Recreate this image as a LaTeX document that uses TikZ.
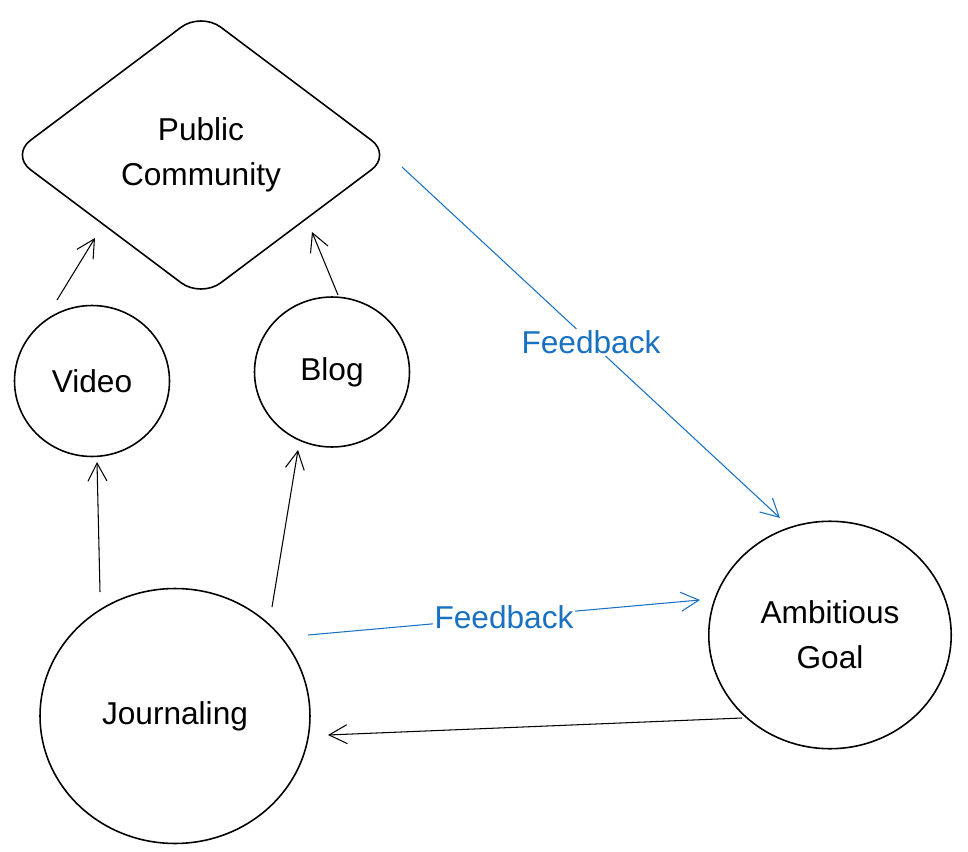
\documentclass[tikz,border=0pt]{standalone}
\usepackage{fontspec}
\setmainfont{Liberation Sans}
\usetikzlibrary{shapes.geometric,arrows.meta,calc}
\definecolor{fbblue}{HTML}{1971C2}
\begin{document}
\begin{tikzpicture}[x=0.02cm,y=-0.02cm,
  lbl/.style={font=\fontsize{18}{25.5}\selectfont, align=center, text=black},
  blob/.style={ellipse, draw=black, line width=0.9pt, inner sep=0pt, lbl},
  arr/.style={-{Straight Barb[length=3.6mm,width=3.8mm]}, line width=0.6pt, draw=black},
  barr/.style={arr, draw=fbblue},
  fb/.style={font=\fontsize{18}{22}\selectfont, text=fbblue, fill=white, inner sep=1pt}]
\useasboundingbox (0,0) rectangle (968,852);
\node[diamond, draw=black, line width=0.9pt, rounded corners=14pt,
      minimum width=7.62cm, minimum height=5.72cm, inner sep=0pt, lbl] (pc) at (201,155) {Public\\Community};
\node[blob, minimum width=3.1cm, minimum height=3.02cm] (vid) at (92,381) {Video};
\node[blob, minimum width=3.1cm, minimum height=3.0cm] (blog) at (332,372) {Blog};
\node[blob, minimum width=5.4cm, minimum height=5.1cm] (jour) at (175,716) {Journaling};
\node[blob, minimum width=4.85cm, minimum height=4.55cm] (goal) at (830,635) {Ambitious\\Goal};

\draw[arr] ($(vid)+(-35,-81)$) -- ($(pc)+(-106,83)$);
\draw[arr] ($(blog)+(6,-77)$) -- ($(pc)+(111,77)$);
\draw[arr] ($(jour)+(-75,-124)$) -- ($(vid)+(5,81)$);
\draw[arr] ($(jour)+(97,-109)$) -- ($(blog)+(-34,78)$);
\draw[arr] ($(goal)+(-88,83)$) -- ($(jour)+(153,19)$);
\draw[barr] ($(jour)+(133,-81)$) -- node[fb] {Feedback} ($(goal)+(-130,-35)$);
\draw[barr] ($(pc)+(201,12)$) -- node[fb] {Feedback} ($(goal)+(-50,-117)$);
\end{tikzpicture}
\end{document}
